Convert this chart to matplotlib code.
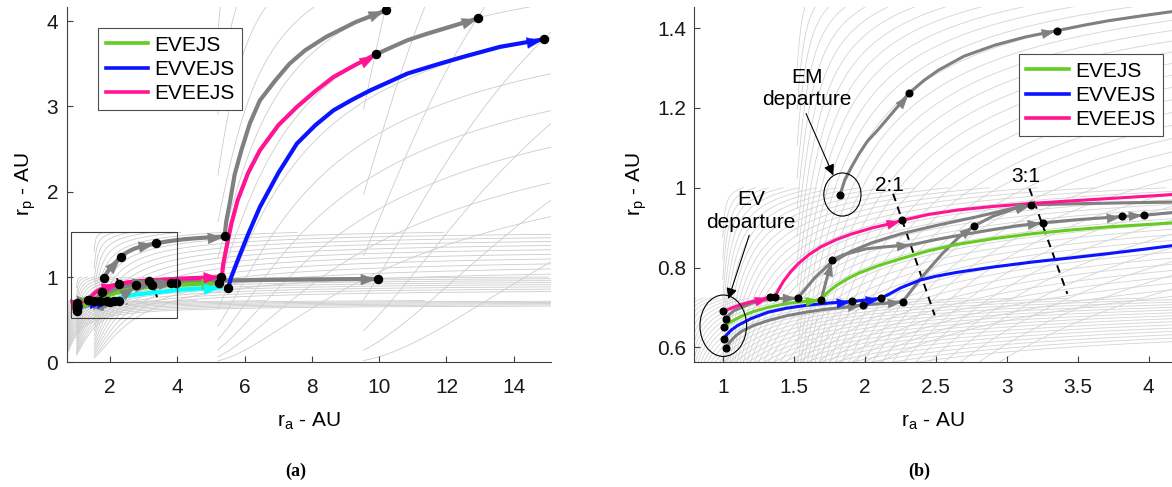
import numpy as np
import matplotlib
matplotlib.use("Agg")
import matplotlib.pyplot as plt
from matplotlib.markers import MarkerStyle
from matplotlib.path import Path
from matplotlib.transforms import Affine2D
from matplotlib.patches import Ellipse, Rectangle
from matplotlib.lines import Line2D

plt.rcParams['font.family'] = ['Liberation Sans', 'DejaVu Sans']
plt.rcParams['mathtext.fontset'] = 'custom'
plt.rcParams['mathtext.rm'] = 'Liberation Sans'
plt.rcParams['mathtext.it'] = 'Liberation Sans:italic'

# background Tisserand contours: planet orbit radii (AU) and v_inf levels (km/s)
planet_radius = [0.723, 1.0, 1.524, 5.203, 9.537]
vinf_coarse = [1, 2, 3, 4, 5, 6, 7, 8, 9, 10, 11, 12, 13, 14, 15, 16, 17, 18]
vinf_fine = [1, 1.5, 2, 2.5, 3, 3.5, 4, 4.5, 5, 5.5, 6, 6.5, 7, 7.5, 8, 8.5, 9, 9.5,
             10, 10.5, 11, 11.5, 12, 12.5, 13, 13.5, 14, 14.5, 15, 15.5, 16, 16.5, 17, 17.5, 18]

# trajectory legs (r_a, r_p) in AU
mag1_x = [1.005, 1.06, 1.12, 1.20, 1.27, 1.333]
mag1_y = [0.690, 0.698, 0.706, 0.714, 0.720, 0.726]
mag2_x = [1.368, 1.39, 1.427, 1.48, 1.533, 1.61, 1.693, 1.80, 1.907, 2.05, 2.17, 2.262]
mag2_y = [0.726, 0.742, 0.765, 0.790, 0.810, 0.833, 0.852, 0.870, 0.884, 0.899, 0.909, 0.918]
mag3_x = [2.262, 2.45, 2.653, 2.9, 3.187, 3.45, 3.72, 3.95, 4.17, 4.5, 4.85, 5.3]
mag3_y = [0.918, 0.933, 0.944, 0.953, 0.961, 0.967, 0.973, 0.978, 0.983, 0.988, 0.993, 0.998]
mag4_x = [5.32, 5.36, 5.46, 5.6, 5.79, 6.1, 6.45, 7.0, 7.55, 8.1, 8.64, 9.3, 9.91]
mag4_y = [0.998, 1.15, 1.35, 1.62, 1.90, 2.22, 2.485, 2.78, 2.994, 3.18, 3.346, 3.49, 3.613]

em1_x = [1.827, 1.86, 1.907, 1.96, 2.02, 2.093, 2.2, 2.312]
em1_y = [0.983, 1.02, 1.052, 1.085, 1.117, 1.145, 1.19, 1.237]
em2_x = [2.312, 2.42, 2.52, 2.7, 2.92, 3.13, 3.355]
em2_y = [1.237, 1.27, 1.295, 1.33, 1.358, 1.378, 1.394]
em3_x = [3.355, 3.55, 3.72, 3.95, 4.17, 4.5, 4.9, 5.4]
em3_y = [1.394, 1.408, 1.419, 1.431, 1.442, 1.453, 1.464, 1.476]
em4_x = [5.40, 5.45, 5.57, 5.7, 5.9, 6.15, 6.45, 6.9, 7.33, 7.8, 8.42, 9.3, 10.21]
em4_y = [1.476, 1.65, 1.898, 2.2, 2.485, 2.8, 3.07, 3.3, 3.50, 3.66, 3.816, 3.99, 4.129]
sat_x = [9.91, 10.4, 10.84, 11.4, 11.94, 12.45, 12.95]
sat_y = [3.613, 3.70, 3.777, 3.85, 3.914, 3.975, 4.035]

blu1_x = [1.007, 1.03, 1.06, 1.107, 1.2, 1.32, 1.45, 1.587, 1.75, 1.912]
blu1_y = [0.620, 0.632, 0.643, 0.655, 0.672, 0.688, 0.698, 0.705, 0.711, 0.715]
blu2_x = [1.912, 2.0, 2.112]
blu2_y = [0.715, 0.718, 0.723]
blu3_x = [2.112, 2.16, 2.253, 2.387, 2.5, 2.653, 2.9, 3.187, 3.45, 3.72, 3.95, 4.17, 4.5, 4.9, 5.3]
blu3_y = [0.723, 0.731, 0.749, 0.768, 0.778, 0.788, 0.801, 0.814, 0.824, 0.835, 0.845, 0.855, 0.862, 0.870, 0.878]
blu4_x = [5.51, 5.6, 5.79, 6.1, 6.45, 7.0, 7.55, 8.1, 8.64, 9.2, 9.74, 10.84, 11.7, 12.49, 13.59, 14.9]
blu4_y = [0.873, 1.0, 1.194, 1.5, 1.82, 2.22, 2.564, 2.78, 2.955, 3.08, 3.19, 3.386, 3.49, 3.581, 3.699, 3.789]

grn1_x = [1.012, 1.04, 1.08, 1.133, 1.22, 1.32, 1.40, 1.48, 1.58, 1.693]
grn1_y = [0.652, 0.660, 0.668, 0.678, 0.690, 0.700, 0.706, 0.711, 0.715, 0.719]
grn2_x = [1.693, 1.73, 1.8, 1.88, 1.96, 2.1, 2.253, 2.45, 2.653, 2.9, 3.187, 3.45, 3.72, 3.95, 4.17, 4.5, 4.9, 5.25]
grn2_y = [0.719, 0.735, 0.755, 0.772, 0.786, 0.805, 0.822, 0.842, 0.858, 0.872, 0.885, 0.894, 0.902, 0.907, 0.912, 0.918, 0.926, 0.933]

gb1_x = [1.024, 1.05, 1.09, 1.133, 1.22, 1.32, 1.45, 1.587, 1.72, 1.853, 1.987]
gb1_y = [0.598, 0.613, 0.628, 0.640, 0.655, 0.667, 0.679, 0.688, 0.695, 0.700, 0.706]
gb2_x = [1.987, 2.1, 2.267]
gb2_y = [0.706, 0.709, 0.714]
gb3_x = [2.267, 2.4, 2.55, 2.66, 2.773]
gb3_y = [0.714, 0.775, 0.836, 0.875, 0.905]
gb4_x = [2.773, 2.9, 3.05, 3.168]
gb4_y = [0.905, 0.928, 0.947, 0.957]

ga1_x = [1.02, 1.05, 1.08, 1.133, 1.2, 1.267, 1.35, 1.45, 1.528]
ga1_y = [0.671, 0.683, 0.692, 0.700, 0.710, 0.717, 0.721, 0.723, 0.723]
ga2_x = [1.528, 1.58, 1.65, 1.75, 1.9, 2.05, 2.26, 2.5, 2.8, 3.0, 3.168]
ga2_y = [0.723, 0.745, 0.775, 0.808, 0.840, 0.862, 0.885, 0.905, 0.928, 0.945, 0.957]
ga3_x = [3.168, 3.5, 3.8, 4.17, 4.6, 5.0, 5.35]
ga3_y = [0.957, 0.960, 0.962, 0.964, 0.966, 0.968, 0.970]
gup_x = [1.693, 1.768]
gup_y = [0.719, 0.819]
gm1_x = [1.768, 1.85, 2.013, 2.15, 2.33]
gm1_y = [0.819, 0.832, 0.847, 0.852, 0.857]
gm2_x = [2.33, 2.5, 2.653, 2.9, 3.08, 3.253]
gm2_y = [0.857, 0.870, 0.880, 0.895, 0.905, 0.912]
gm3_x = [3.253, 3.5, 3.813]
gm3_y = [0.912, 0.920, 0.928]
gm4_x = [3.813, 3.968]
gm4_y = [0.928, 0.931]
gm5_x = [3.968, 4.17, 4.6, 5.0, 5.35]
gm5_y = [0.931, 0.938, 0.945, 0.952, 0.959]
gh_x = [5.35, 6.5, 8.0, 9.96]
gh_y = [0.959, 0.966, 0.972, 0.978]

dot_x = [1.005, 1.02, 1.012, 1.007, 1.024, 1.333, 1.368, 1.528, 1.693, 1.768, 1.827, 1.912, 1.987,
         2.112, 2.267, 2.262, 2.312, 2.773, 3.168, 3.253, 3.355, 3.813, 3.968,
         5.3, 5.25, 5.4, 5.51, 9.91, 9.96, 10.21, 12.95, 14.9]
dot_y = [0.690, 0.671, 0.652, 0.620, 0.598, 0.726, 0.726, 0.723, 0.719, 0.819, 0.983, 0.715, 0.706,
         0.723, 0.714, 0.918, 1.237, 0.905, 0.957, 0.912, 1.394, 0.928, 0.931,
         0.998, 0.933, 1.476, 0.873, 3.613, 0.978, 4.129, 4.035, 3.789]

res21_x = [2.2, 2.493]
res21_y = [0.985, 0.680]
res31_x = [3.16, 3.427]
res31_y = [0.998, 0.734]

legend_labels = ['EVEJS', 'EVVEJS', 'EVEEJS']
C_MAG, C_GRN, C_BLU, C_GRY, C_CYN = '#ff1493', '#66cc22', '#0a14ff', '#808080', '#00ffff'

legs = [
    (ga1_x, ga1_y, C_GRY), (ga2_x, ga2_y, C_GRY), (ga3_x, ga3_y, C_GRY),
    (gb1_x, gb1_y, C_GRY), (gb2_x, gb2_y, C_GRY), (gb3_x, gb3_y, C_GRY), (gb4_x, gb4_y, C_GRY),
    (gup_x, gup_y, C_GRY), (gm1_x, gm1_y, C_GRY), (gm2_x, gm2_y, C_GRY), (gm3_x, gm3_y, C_GRY),
    (gm4_x, gm4_y, C_GRY), (gm5_x, gm5_y, C_GRY), (gh_x, gh_y, C_GRY),
    (em1_x, em1_y, C_GRY), (em2_x, em2_y, C_GRY), (em3_x, em3_y, C_GRY), (em4_x, em4_y, C_GRY),
    (sat_x, sat_y, C_GRY),
    (grn1_x, grn1_y, C_GRN), (grn2_x, grn2_y, C_GRN),
    (blu1_x, blu1_y, C_BLU), (blu2_x, blu2_y, C_BLU), (blu3_x, blu3_y, 'blu3'), (blu4_x, blu4_y, C_BLU),
    (mag1_x, mag1_y, C_MAG), (mag2_x, mag2_y, C_MAG), (mag3_x, mag3_y, C_MAG), (mag4_x, mag4_y, C_MAG),
]


def tisserand_curve(R, vinf):
    v = vinf / (29.78 / np.sqrt(R))
    alpha = np.linspace(0, np.pi, 700)
    vt = 1 + v * np.cos(alpha)
    vr = v * np.sin(alpha)
    energy = 0.5 * (vt ** 2 + vr ** 2) - 1
    ok = energy < -1e-4
    a = -0.5 / energy[ok]
    e = np.sqrt(np.clip(1 - vt[ok] ** 2 / a, 0, None))
    return R * a * (1 + e), R * a * (1 - e)


def head_marker(angle):
    p = Path([(0, 0), (-1, 0.37), (-1, -0.37), (0, 0)],
             [Path.MOVETO, Path.LINETO, Path.LINETO, Path.CLOSEPOLY])
    return MarkerStyle(p, transform=Affine2D().rotate_deg(angle))


def draw_leg(ax, xs, ys, color, lw, hsize, back):
    ax.plot(xs, ys, color=color, lw=lw, solid_capstyle='round', zorder=4)
    p0 = ax.transData.transform((xs[-2], ys[-2]))
    p1 = ax.transData.transform((xs[-1], ys[-1]))
    d = p1 - p0
    d = d / np.hypot(*d)
    tip = ax.transData.inverted().transform(p1 - d * back)
    ang = np.degrees(np.arctan2(d[1], d[0]))
    ax.plot([tip[0]], [tip[1]], ls='none', marker=head_marker(ang), ms=hsize,
            color=color, mec=color, mew=0.3, zorder=5)


fig = plt.figure(figsize=(11.72, 4.87), dpi=100)
axA = fig.add_axes([66.5 / 1172, 1 - 362.3 / 487, (550.7 - 66.5) / 1172, (362.3 - 6.7) / 487])
axB = fig.add_axes([694.3 / 1172, 1 - 362.3 / 487, (1172 - 694.3) / 1172, (362.3 - 6.7) / 487])
axA.set_xlim(0.7, 15.1)
axA.set_ylim(0, 4.17)
axB.set_xlim(0.8, 4.164)
axB.set_ylim(0.5623, 1.454)

for ax, levels, gcol in ((axA, vinf_coarse, '#cccccc'), (axB, vinf_fine, '#d4d4d4')):
    for R in planet_radius:
        for vi in levels:
            if R > 3 and (vi > 0.95 * 29.78 / np.sqrt(R) or vi % 1):
                continue
            ra, rp = tisserand_curve(R, vi)
            ax.plot(ra, rp, color=gcol, lw=0.6, zorder=1)
    for s in ('top', 'right'):
        ax.spines[s].set_visible(False)
    for s in ('left', 'bottom'):
        ax.spines[s].set_color('#404040')
        ax.spines[s].set_linewidth(0.8)
    ax.tick_params(direction='in', length=4, width=0.8, color='#404040', labelsize=15,
                   labelcolor='#1a1a1a')
    ax.tick_params(axis='x', pad=11)
    ax.tick_params(axis='y', pad=6)
    ax.plot(res21_x, res21_y, color='k', ls=(0, (4, 3)), lw=1.4, zorder=3)
    ax.plot(res31_x, res31_y, color='k', ls=(0, (4, 3)), lw=1.4, zorder=3)
    ax.set_xlabel(r'$\mathrm{r_a}$ - AU', fontsize=15, labelpad=10)
    ax.set_ylabel(r'$\mathrm{r_p}$ - AU', fontsize=15, labelpad=6)

axA.set_xticks([2, 4, 6, 8, 10, 12, 14])
axA.set_yticks([0, 1, 2, 3, 4])
axB.set_xticks([1, 1.5, 2, 2.5, 3, 3.5, 4])
axB.set_xticklabels(['1', '1.5', '2', '2.5', '3', '3.5', '4'])
axB.set_yticks([0.6, 0.8, 1.0, 1.2, 1.4])
axB.set_yticklabels(['0.6', '0.8', '1', '1.2', '1.4'])

for xs, ys, c in legs:
    colA = C_CYN if c == 'blu3' else c
    colB = C_BLU if c == 'blu3' else c
    draw_leg(axA, xs, ys, colA, 3.0, 21, 3)
    draw_leg(axB, xs, ys, colB, 2.2, 18, 3)

axA.plot(dot_x, dot_y, 'o', color='k', ms=5.8, zorder=6)
axB.plot(dot_x, dot_y, 'o', color='k', ms=4.8, zorder=6)

axA.add_patch(Rectangle((0.83, 0.525), 3.98 - 0.83, 1.526 - 0.525, fill=False,
                        ec='#404040', lw=0.8, zorder=7))

axB.add_patch(Ellipse((1.843, 0.983), 0.262, 0.108, fill=False, ec='k', lw=0.8, zorder=7))
axB.add_patch(Ellipse((1.004, 0.654), 0.328, 0.154, fill=False, ec='k', lw=0.8, zorder=7))
axB.text(1.595, 1.249, 'EM\ndeparture', fontsize=15, ha='center', va='center',
         linespacing=1.25, zorder=8)
axB.text(1.2, 0.942, 'EV\ndeparture', fontsize=15, ha='center', va='center',
         linespacing=1.25, zorder=8)
axB.annotate('', xy=(1.779, 1.031), xytext=(1.587, 1.186),
             arrowprops=dict(arrowstyle='-|>', color='k', lw=0.8, mutation_scale=16,
                             shrinkA=0, shrinkB=0), zorder=8)
axB.annotate('', xy=(1.04, 0.721), xytext=(1.187, 0.881),
             arrowprops=dict(arrowstyle='-|>', color='k', lw=0.8, mutation_scale=16,
                             shrinkA=0, shrinkB=0), zorder=8)
axB.text(2.173, 1.006, '2:1', fontsize=15, ha='center', va='center', zorder=8)
axB.text(3.133, 1.027, '3:1', fontsize=15, ha='center', va='center', zorder=8)

handles = [Line2D([], [], color=C_GRN, lw=2.6), Line2D([], [], color=C_BLU, lw=2.6),
           Line2D([], [], color=C_MAG, lw=2.6)]
legA = axA.legend(handles, legend_labels, loc='upper left', bbox_to_anchor=(0.0655, 0.939),
                  borderaxespad=0, fontsize=15, fancybox=False, framealpha=1,
                  edgecolor='#4d4d4d', handlelength=2.05, handletextpad=0.3,
                  labelspacing=0.25, borderpad=0.35)
legB = axB.legend(handles, legend_labels, loc='upper right', bbox_to_anchor=(0.981, 0.866),
                  borderaxespad=0, fontsize=15, fancybox=False, framealpha=1,
                  edgecolor='#4d4d4d', handlelength=2.05, handletextpad=0.3,
                  labelspacing=0.25, borderpad=0.35)
for lg in (legA, legB):
    lg.get_frame().set_linewidth(0.8)
    lg.set_zorder(10)

fig.text(296 / 1172, 1 - 471 / 487, '(a)', fontsize=13, fontweight='bold',
         family='Liberation Serif', ha='center', va='center')
fig.text(919 / 1172, 1 - 471 / 487, '(b)', fontsize=13, fontweight='bold',
         family='Liberation Serif', ha='center', va='center')

fig.savefig('out.png', dpi=100)
